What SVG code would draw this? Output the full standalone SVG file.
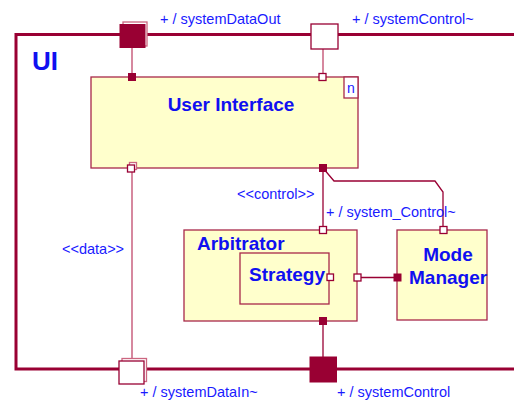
<svg xmlns="http://www.w3.org/2000/svg" width="514" height="400" viewBox="0 0 514 400">
<style>
.frame{fill:none;stroke:#990033;stroke-width:3}
.box{fill:#ffffcc;stroke:#a8284a;stroke-width:1.3}
.conn{fill:none;stroke:#c8607f;stroke-width:1.5}
.conn2{fill:none;stroke:#990033;stroke-width:1.3}
.pf{fill:#990033;stroke:#990033;stroke-width:1}
.po{fill:#ffffff;stroke:#990033;stroke-width:1.3}
.pb{fill:#ffffff;stroke:#cc6680;stroke-width:1.3}
.lbl{font-family:"Liberation Sans",Arial,sans-serif;font-size:14.5px;fill:#1a1aff}
.ttl{font-family:"Liberation Sans",Arial,sans-serif;font-size:19px;font-weight:bold;fill:#1010f0}
</style>
<rect x="0" y="0" width="514" height="400" fill="#ffffff"/>
<g id="frame">
<path class="frame" d="M514,34.5 H16 V369 H514"/>
<text x="32" y="70" font-family="Liberation Sans,Arial,sans-serif" font-size="26" font-weight="bold" fill="#1010f0">UI</text>
</g>
<g id="connectors">
<line class="conn" x1="132" y1="48" x2="132" y2="74"/>
<line class="conn" x1="323" y1="49" x2="323" y2="74"/>
<line class="conn" x1="132" y1="172" x2="132" y2="360"/>
<line class="conn2" x1="323" y1="172" x2="323" y2="227"/>
<polyline class="conn2" points="323,168 334,181 435,181 443,192 443,227"/>
<line class="conn2" x1="333" y1="277.5" x2="394" y2="277.5"/>
<line class="conn2" x1="323" y1="324" x2="323" y2="357"/>
</g>
<g id="port-systemDataOut">
<rect class="pb" x="123" y="22" width="24" height="24"/>
<rect class="pf" x="120" y="24.5" width="25" height="23"/>
<text class="lbl" x="160" y="24">+ / systemDataOut</text>
</g>
<g id="port-systemControl-top">
<rect class="po" x="311" y="24" width="27" height="25"/>
<text class="lbl" x="352" y="24">+ / systemControl~</text>
</g>
<g id="port-systemDataIn">
<rect class="pb" x="122" y="358.5" width="24.5" height="23"/>
<rect class="po" x="119" y="361" width="25" height="23"/>
<text class="lbl" x="140" y="397">+ / systemDataIn~</text>
</g>
<g id="port-systemControl-bottom">
<rect class="pf" x="310" y="357" width="26.5" height="25"/>
<text class="lbl" x="337" y="397">+ / systemControl</text>
</g>
<g id="user-interface">
<rect class="box" x="91" y="77" width="267" height="91"/>
<rect x="344" y="77" width="14" height="21" fill="#ffffff" stroke="#a8284a" stroke-width="1.3"/>
<text x="347" y="93" font-family="Liberation Sans,Arial,sans-serif" font-size="14" fill="#1a1aff">n</text>
<text class="ttl" x="231" y="111" text-anchor="middle">User Interface</text>
<rect class="pf" x="128.5" y="73.5" width="7" height="7"/>
<rect class="po" x="319" y="73.5" width="7" height="7"/>
<rect class="pb" x="129.5" y="162.5" width="7" height="7"/>
<rect class="po" x="127.5" y="165" width="7" height="7"/>
<rect class="pf" x="319.5" y="164.5" width="7" height="7"/>
</g>
<g id="labels">
<text class="lbl" x="237" y="199">&lt;&lt;control&gt;&gt;</text>
<text class="lbl" x="326" y="217">+ / system_Control~</text>
<text class="lbl" x="62" y="254">&lt;&lt;data&gt;&gt;</text>
</g>
<g id="arbitrator">
<rect class="box" x="184" y="230" width="173" height="91"/>
<text class="ttl" x="197" y="250">Arbitrator</text>
<rect class="po" x="319.5" y="226.5" width="7" height="7"/>
<rect class="po" x="354" y="274" width="7" height="7"/>
<rect class="pf" x="319.5" y="317.5" width="7" height="7"/>
</g>
<g id="strategy">
<rect class="box" x="240" y="253" width="89" height="51"/>
<text class="ttl" x="249" y="281">Strategy</text>
<rect class="po" x="327" y="274" width="6.5" height="6.5"/>
</g>
<g id="mode-manager">
<rect class="box" x="397" y="230" width="90" height="90"/>
<text class="ttl" x="448" y="261" text-anchor="middle">Mode</text>
<text class="ttl" x="409" y="284">Manager</text>
<rect class="po" x="440" y="226.5" width="7" height="7"/>
<rect class="pf" x="394" y="274" width="7" height="7"/>
</g>
</svg>
